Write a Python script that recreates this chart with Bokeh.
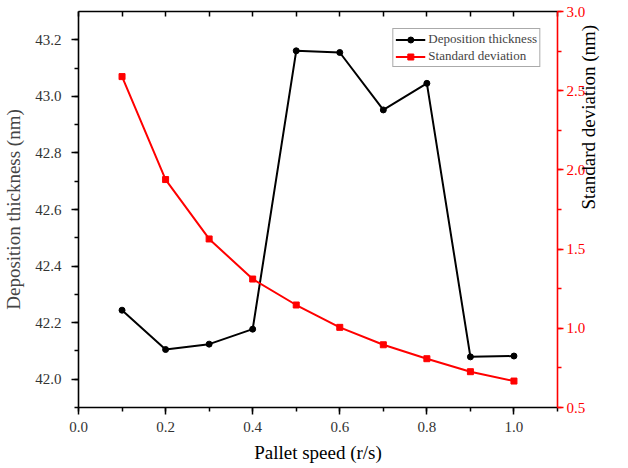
import math
from bokeh.plotting import figure
from bokeh.models import (Range1d, LinearAxis, SingleIntervalTicker, Legend, LegendItem,
                          ColumnDataSource, NumeralTickFormatter)
from bokeh.embed import file_html
from bokeh.resources import INLINE

speed = [0.1, 0.2, 0.3, 0.4, 0.5, 0.6, 0.7, 0.8, 0.9, 1.0]
thickness = [42.244, 42.105, 42.124, 42.177, 43.161, 43.155, 42.952, 43.046, 42.079, 42.082]
std_dev = [2.589, 1.939, 1.564, 1.311, 1.147, 1.006, 0.896, 0.808, 0.726, 0.667]

FONT = "Liberation Serif"

p = figure(width=612, height=467, output_backend="svg", toolbar_location=None,
           x_range=Range1d(0.0, 1.1), y_range=Range1d(41.9, 43.3),
           min_border_left=71, min_border_top=11, min_border_right=50, min_border_bottom=60,
           x_axis_location=None, y_axis_location=None)
p.outline_line_color = None
p.xgrid.visible = False
p.ygrid.visible = False
p.background_fill_color = "white"

p.extra_y_ranges = {"sd": Range1d(0.5, 3.0)}


def style(ax, color="black"):
    ax.axis_line_color = color
    ax.axis_line_width = 1.6
    ax.major_tick_line_color = color
    ax.minor_tick_line_color = color
    ax.major_tick_line_width = 1.5
    ax.minor_tick_line_width = 1.5
    ax.major_tick_out = 7
    ax.major_tick_in = 0
    ax.minor_tick_out = 4
    ax.minor_tick_in = 0
    ax.major_label_text_font = FONT
    ax.major_label_text_font_size = "15px"
    ax.axis_label_text_font = FONT
    ax.axis_label_text_font_size = "19px"
    ax.axis_label_text_font_style = "normal"
    ax.formatter = NumeralTickFormatter(format="0.0")


xaxis = LinearAxis(ticker=SingleIntervalTicker(interval=0.2, num_minor_ticks=2),
                   axis_label="Pallet speed (r/s)")
style(xaxis)
xaxis.major_label_text_color = "#333333"
xaxis.axis_label_text_color = "black"
xaxis.major_label_standoff = 7
xaxis.axis_label_standoff = 7
p.add_layout(xaxis, "below")

topaxis = LinearAxis(ticker=SingleIntervalTicker(interval=0.1, num_minor_ticks=0))
style(topaxis)
topaxis.major_tick_out = 0
topaxis.major_tick_in = 5
topaxis.minor_tick_out = 0
topaxis.major_label_standoff = 0
topaxis.major_label_text_font_size = "0px"
topaxis.major_label_text_alpha = 0
p.add_layout(topaxis, "above")

yaxis = LinearAxis(ticker=SingleIntervalTicker(interval=0.2, num_minor_ticks=2),
                   axis_label="Deposition thickness (nm)")
style(yaxis)
yaxis.major_label_text_color = "#333333"
yaxis.major_label_standoff = 10
yaxis.axis_label_standoff = 8
p.add_layout(yaxis, "left")

raxis = LinearAxis(y_range_name="sd", ticker=SingleIntervalTicker(interval=0.5, num_minor_ticks=2),
                   axis_label="Standard deviation (nm)")
style(raxis, "red")
raxis.major_tick_out = 6
raxis.major_label_text_color = "red"
raxis.major_label_standoff = 3
raxis.axis_label_text_color = "black"
raxis.axis_label_standoff = 0
raxis.axis_label_orientation = math.pi / 2
p.add_layout(raxis, "right")

src = ColumnDataSource(dict(x=speed, t=thickness, s=std_dev))

l1 = p.line("x", "t", source=src, line_color="black", line_width=2)
m1 = p.scatter("x", "t", source=src, marker="circle", size=6, fill_color="black", line_color="black")
l2 = p.line("x", "s", source=src, y_range_name="sd", line_color="red", line_width=2)
m2 = p.scatter("x", "s", source=src, y_range_name="sd", marker="square", size=6,
               fill_color="red", line_color="red")

legend = Legend(items=[LegendItem(label="Deposition thickness", renderers=[l1, m1]),
                       LegendItem(label="Standard deviation", renderers=[l2, m2])],
                location="top_right")
legend.label_text_font = FONT
legend.label_text_font_size = "13px"
legend.glyph_width = 30
legend.glyph_height = 15
legend.label_height = 15
legend.spacing = 1
legend.padding = 2
legend.margin = 17
legend.label_standoff = 3
legend.border_line_color = "#555555"
legend.border_line_width = 1
legend.background_fill_alpha = 1
p.add_layout(legend, "center")

open("out.html", "w").write(file_html(p, INLINE))
